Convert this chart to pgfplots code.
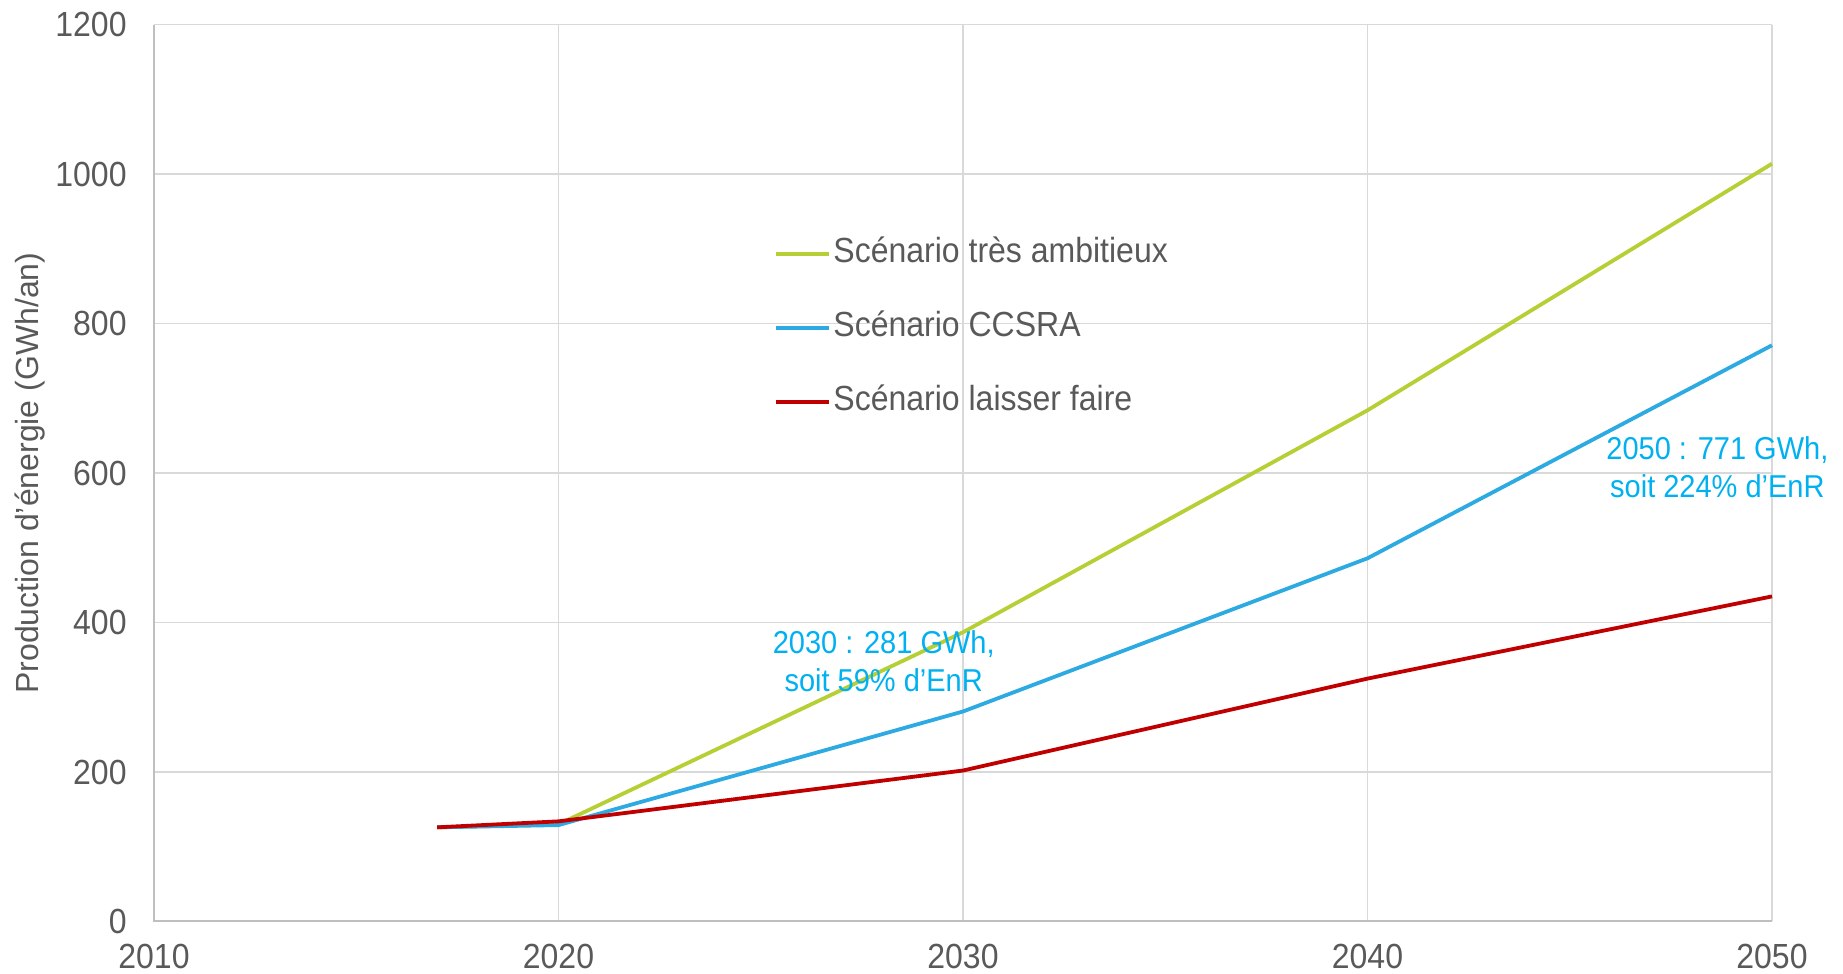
\documentclass[border=0pt]{standalone}
\usepackage{pgfplots}
\pgfplotsset{compat=1.18}
\usepackage{fontspec}
\setmainfont{Liberation Sans}
\definecolor{txt}{HTML}{595959}
\definecolor{grd}{HTML}{D9D9D9}
\definecolor{axl}{HTML}{BFBFBF}
\definecolor{cgreen}{HTML}{B5CF35}
\definecolor{cblue}{HTML}{2DAAE1}
\definecolor{cred}{HTML}{C00000}
\definecolor{anno}{HTML}{00B0F0}
\begin{document}
\begin{tikzpicture}
\path[use as bounding box] (-77pt,-26.25pt) rectangle (844.5pt,460.75pt);
\begin{axis}[
  at={(0,0)}, anchor=south west,
  scale only axis, width=809pt, height=448.4pt,
  xmin=2010, xmax=2050, ymin=0, ymax=1200,
  xtick={2010,2020,...,2050}, ytick={0,200,...,1200},
  /pgf/number format/assume math mode=true,
  /pgf/number format/1000 sep={},
  grid=major, major grid style={grd, line width=0.75pt},
  major tick length=0pt,
  axis line style={draw=none},
  clip=false,
  tick label style={font=\fontsize{16}{19}\selectfont, text=txt, inner sep=0pt, yscale=1.09},
  yticklabel style={anchor=east, xshift=-13.5pt},
  xticklabel style={anchor=north, yshift=-10.3pt},
  ylabel={Production d’énergie (GWh/an)},
  every axis y label/.style={at={(axis description cs:0,0.5)}, xshift=-62pt, rotate=90, anchor=center, font=\fontsize{16}{19}\selectfont, text=txt},
  legend cell align=left,
  legend style={draw=none, fill=none, at={(axis cs:2025.31,916)}, anchor=north west,
    inner sep=0pt, row sep=20.7pt, column sep=1.5pt,
    nodes={text height=11.5pt, text depth=3.5pt, inner sep=0pt, text=txt, font=\fontsize{16}{19}\selectfont, yscale=1.09}},
  legend image code/.code={\draw[#1] (0pt,0pt) -- (26.5pt,0pt);},
]
\addplot[cgreen, line width=1.9pt, line join=round] coordinates {(2017,126) (2020,130) (2030,387) (2040,684) (2050,1014)};
\addlegendentry{Scénario très ambitieux}
\addplot[cblue, line width=1.9pt, line join=round] coordinates {(2017,126) (2020,129) (2030,281) (2040,486) (2050,771)};
\addlegendentry{Scénario CCSRA}
\addplot[cred, line width=1.9pt, line join=round] coordinates {(2017,126) (2020,134) (2030,202) (2040,325) (2050,435)};
\addlegendentry{Scénario laisser faire}
\draw[axl, line width=1pt] (rel axis cs:0,1) -- (rel axis cs:0,0) -- (rel axis cs:1,0);
\node[text=anno, align=center, font=\fontsize{14.5}{17.5}\selectfont, yscale=1.09] at (axis cs:2028.04,348) {2030 : 281 GWh,\\soit 59\% d’EnR};
\node[text=anno, align=center, font=\fontsize{14.5}{17.5}\selectfont, yscale=1.09] at (axis cs:2048.65,608) {2050 : 771 GWh,\\soit 224\% d’EnR};
\end{axis}
\end{tikzpicture}
\end{document}
